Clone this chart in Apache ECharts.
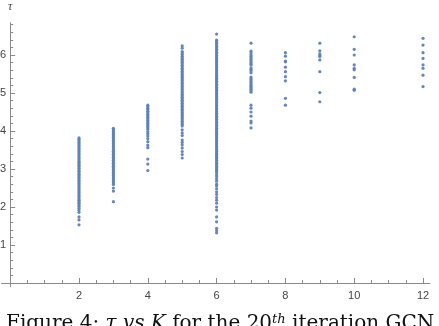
<!DOCTYPE html>
<html><head><meta charset="utf-8">
<script src="https://cdn.jsdelivr.net/npm/echarts@6/dist/echarts.min.js"></script>
<style>html,body{margin:0;padding:0;background:#fff}#c{width:439px;height:326px}</style>
</head><body><div id="c"></div>
<script>
const kValues = [2,3,4,5,6,7,8,9,10,12];
const tau2 = [3.82,3.78,3.74,3.70,3.66,3.62,3.58,3.54,3.50,3.46,3.42,3.38,3.34,3.30,3.26,3.22,3.18,3.14,3.10,3.06,3.02,2.98,2.94,2.90,2.86,2.82,2.78,2.74,2.70,2.66,2.62,2.58,2.54,2.50,2.46,2.42,2.38,2.34,2.30,2.26,2.22,2.18,2.14,2.10,2.06,2.02,1.97,1.92,1.86,1.74,1.66,1.53];
const tau3 = [4.07,4.03,3.99,3.95,3.91,3.87,3.83,3.79,3.75,3.71,3.67,3.63,3.59,3.55,3.51,3.47,3.43,3.39,3.35,3.31,3.27,3.23,3.19,3.15,3.11,3.07,3.03,2.99,2.95,2.91,2.87,2.83,2.79,2.75,2.71,2.67,2.63,2.59,2.50,2.42,2.14];
const tau4 = [4.68,4.64,4.60,4.56,4.52,4.48,4.44,4.40,4.36,4.32,4.28,4.24,4.20,4.16,4.12,4.08,4.04,3.98,3.93,3.87,3.80,3.72,3.63,3.56,3.26,3.13,2.96];
const tau5 = [6.24,6.18,6.09,6.05,6.01,5.97,5.93,5.89,5.85,5.81,5.77,5.73,5.69,5.65,5.61,5.57,5.53,5.49,5.45,5.41,5.37,5.33,5.29,5.25,5.21,5.17,5.13,5.09,5.05,5.01,4.97,4.93,4.89,4.85,4.81,4.77,4.73,4.69,4.65,4.61,4.57,4.53,4.49,4.45,4.41,4.37,4.33,4.29,4.25,4.21,4.17,4.13,4.03,3.95,3.88,3.76,3.70,3.63,3.55,3.46,3.38,3.29];
const tau6 = [6.55,6.39,6.35,6.31,6.27,6.23,6.19,6.15,6.11,6.07,6.03,5.99,5.95,5.91,5.87,5.83,5.79,5.75,5.71,5.67,5.63,5.59,5.55,5.51,5.47,5.43,5.39,5.35,5.31,5.27,5.23,5.19,5.15,5.11,5.07,5.03,4.99,4.95,4.91,4.87,4.83,4.79,4.75,4.71,4.67,4.63,4.59,4.55,4.51,4.47,4.43,4.39,4.35,4.31,4.27,4.23,4.19,4.15,4.11,4.07,4.03,3.99,3.95,3.91,3.87,3.83,3.79,3.75,3.71,3.67,3.63,3.59,3.55,3.51,3.47,3.43,3.39,3.35,3.31,3.27,3.23,3.19,3.15,3.11,3.07,3.03,2.99,2.95,2.91,2.85,2.80,2.74,2.68,2.60,2.55,2.48,2.40,2.33,2.25,2.18,2.10,2.00,1.92,1.74,1.61,1.44,1.38,1.32];
const tau7 = [6.31,6.10,6.05,6.00,5.96,5.92,5.88,5.84,5.80,5.76,5.74,5.66,5.62,5.58,5.53,5.42,5.38,5.34,5.30,5.26,5.22,5.18,5.14,5.10,5.06,5.02,4.68,4.60,4.50,4.39,4.26,4.21,4.08];
const tau8 = [6.06,5.97,5.84,5.82,5.68,5.56,5.43,5.32,4.86,4.68];
const tau9 = [6.31,6.11,6.03,5.99,5.96,5.87,5.56,5.01,4.77];
const tau10 = [6.48,6.15,6.00,5.74,5.65,5.61,5.41,5.10,5.07];
const tau12 = [6.44,6.26,6.06,5.91,5.74,5.65,5.47,5.17];
const tauByK = [tau2,tau3,tau4,tau5,tau6,tau7,tau8,tau9,tau10,tau12];
const xMajorTicks = [2,4,6,8,10,12];
const xMinorTicks = [0.5,1,1.5,2.5,3,3.5,4.5,5,5.5,6.5,7,7.5,8.5,9,9.5,10.5,11,11.5,12];
const yMajorTicks = [1,2,3,4,5,6];
const yMinorTicks = [0.2,0.4,0.6,0.8,1.2,1.4,1.6,1.8,2.2,2.4,2.6,2.8,3.2,3.4,3.6,3.8,4.2,4.4,4.6,4.8,5.2,5.4,5.6,5.8,6.2,6.4,6.6,6.8];

const points = [];
kValues.forEach((k, i) => tauByK[i].forEach(t => points.push([k, t])));

const axisColor = '#8a8a8a';
const labelColor = '#444';
const xBase = {type:'value', min:-0.25, max:12.2, gridIndex:0, position:'bottom',
  splitLine:{show:false}, axisLine:{onZero:true, lineStyle:{color:axisColor, width:1}}};
const yBase = {type:'value', min:-0.1, max:6.85, gridIndex:0, position:'left',
  splitLine:{show:false}, axisLine:{onZero:true, lineStyle:{color:axisColor, width:1}}};

const chart = echarts.init(document.getElementById('c'), null, {renderer:'canvas'});
chart.setOption({
  animation:false,
  backgroundColor:'#fff',
  grid:[
    {left:1.6, right:9.1, top:22.7, bottom:39.2, outerBoundsMode:'none'},
    {left:10.2, right:9.1, top:22.7, bottom:39.2, outerBoundsMode:'none'}
  ],
  xAxis:[
    Object.assign({}, xBase, {
      axisTick:{show:true, inside:true, length:5, customValues:xMajorTicks, lineStyle:{color:axisColor}},
      axisLabel:{show:true, customValues:xMajorTicks, color:labelColor, fontSize:11, fontFamily:'Liberation Sans', margin:4}
    }),
    Object.assign({}, xBase, {
      axisLine:{show:false, onZero:true},
      axisTick:{show:true, inside:true, length:3, customValues:xMinorTicks, lineStyle:{color:axisColor}},
      axisLabel:{show:false}
    }),
    {type:'value', gridIndex:1, min:0, max:12.2, show:false}
  ],
  yAxis:[
    Object.assign({}, yBase, {
      axisTick:{show:true, inside:true, length:5, customValues:yMajorTicks, lineStyle:{color:axisColor}},
      axisLabel:{show:false}
    }),
    Object.assign({}, yBase, {
      axisLine:{show:false, onZero:true},
      axisTick:{show:true, inside:true, length:3, customValues:yMinorTicks, lineStyle:{color:axisColor}},
      axisLabel:{show:false}
    }),
    {type:'value', gridIndex:1, min:-0.1, max:6.85, position:'left',
      splitLine:{show:false}, axisLine:{show:false, onZero:false}, axisTick:{show:false},
      axisLabel:{show:true, customValues:yMajorTicks, color:labelColor, fontSize:11, fontFamily:'Liberation Sans', margin:4, align:'right'}}
  ],
  series:[{
    type:'scatter', xAxisIndex:0, yAxisIndex:0, data:points,
    symbol:'circle', symbolSize:3.2,
    itemStyle:{color:'#5E81B5', opacity:0.95}
  }],
  graphic:[
    {type:'text', left:8, top:1, style:{text:'τ', font:'italic 12px "Liberation Serif"', fill:labelColor}},
    {type:'text', left:6, top:313, style:{
      text:'{n|Figure 4: }{i|τ vs K}{n| for the 20}{s|th}{n| iteration GCN}',
      rich:{
        n:{font:'20px "DejaVu Serif"', fill:'#111', lineHeight:22},
        i:{font:'italic 20px "DejaVu Serif"', fill:'#111', lineHeight:22},
        s:{font:'italic 13px "DejaVu Serif"', fill:'#111', lineHeight:22, verticalAlign:'top'}
      }
    }}
  ]
});
</script></body></html>
